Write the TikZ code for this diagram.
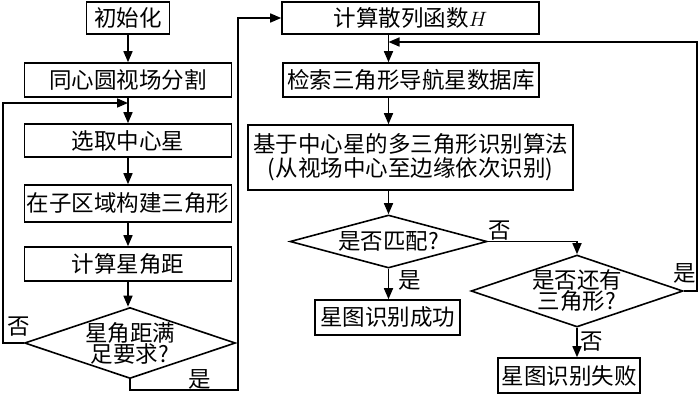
\documentclass[tikz,border=0pt]{standalone}
\usepackage{fontspec}
\setmainfont{Noto Sans CJK SC}
\usetikzlibrary{arrows.meta,shapes.geometric}
\begin{document}
\begin{tikzpicture}[x=1pt,y=-1pt,
  every node/.style={font=\fontsize{22.5}{21}\selectfont},
  box/.style={draw,line width=1.6pt,inner sep=0pt,align=center},
  dia/.style={draw,diamond,line width=1.6pt,inner sep=0pt},
  arr/.style={line width=1.6pt,-{Triangle[length=11pt,width=9pt]}},
  lab/.style={inner sep=0pt}]
\useasboundingbox (0,0) rectangle (700,394);
% left column
\node[box,minimum width=83pt,minimum height=32pt] (n1) at (128,18) {初始化};
\node[box,minimum width=207pt,minimum height=34pt] (n2) at (128,80) {同心圆视场分割};
\node[box,minimum width=207pt,minimum height=33pt] (n3) at (128,140.5) {选取中心星};
\node[box,minimum width=207pt,minimum height=37pt] (n4) at (128,203.5) {在子区域构建三角形};
\node[box,minimum width=207pt,minimum height=34pt] (n5) at (128,264) {计算星角距};
\node[dia,minimum width=211pt,minimum height=71pt,
  label={[align=center,inner sep=0pt]center:星角距满\\足要求?}] (d1) at (130,343) {};
% right column
\node[box,minimum width=257pt,minimum height=32pt] (h) at (410.5,18) {计算散列函数$H$};
\node[box,minimum width=256pt,minimum height=34pt] (s) at (411,80) {检索三角形导航星数据库};
\node[box,minimum width=325pt,minimum height=65pt] (a) at (410.5,157.5) {基于中心星的多三角形识别算法\\[3pt](从视场中心至边缘依次识别)};
\node[dia,minimum width=197pt,minimum height=53pt,
  label={[inner sep=0pt]center:是否匹配?}] (d2) at (388.5,241.5) {};
\node[box,minimum width=145pt,minimum height=35pt] (ok) at (387.5,317.5) {星图识别成功};
\node[dia,minimum width=212pt,minimum height=72pt,
  label={[align=center,inner sep=0pt]center:是否还有\\三角形?}] (d3) at (577,291) {};
\node[box,minimum width=142pt,minimum height=35pt] (fail) at (569,375.5) {星图识别失败};
% helper coordinates
\coordinate (j1) at (128,103);
\coordinate (lx) at (3,343);
\coordinate (c1) at (238,390);
\coordinate (j2) at (388.5,42);
\coordinate (rx) at (697,291);
% connectors left
\draw[arr] (n1) -- (n2);
\draw[arr] (n2) -- (n3);
\draw[arr] (n3) -- (n4);
\draw[arr] (n4) -- (n5);
\draw[arr] (n5.south) -- (n5.south |- d1.north);
\draw[arr] (d1.west) -- (lx) |- (j1);
\draw[arr] (d1.south) -- (d1.south |- c1) -- (c1) |- (h.west);
% connectors right
\draw[arr] (h.south -| d2) -- (s.north -| d2);
\draw[arr] (s.south -| d2) -- (a.north -| d2);
\draw[arr] (a.south -| d2) -- (d2.north);
\draw[arr] (d2.south) -- (ok.north -| d2);
\draw[arr] (d2.east) -| (d3.north);
\draw[arr] (d3.south) -- (fail.north -| d3);
\draw[arr] (d3.east) -- (rx) |- (j2);
% labels
\node[lab] (l1) at (19,327) {否};
\node[lab] (l2) at (200,379) {是};
\node[lab] (l3) at (500,231) {否};
\node[lab] (l4) at (410,280) {是};
\node[lab] (l5) at (685,273) {是};
\node[lab] (l6) at (592,342) {否};
\end{tikzpicture}
\end{document}
